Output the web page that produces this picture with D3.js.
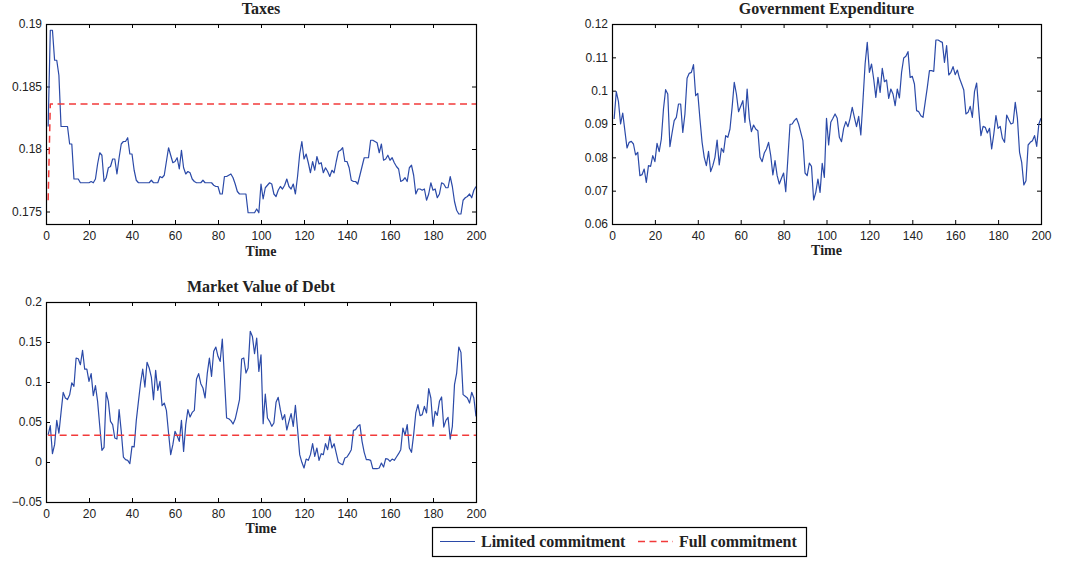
<!DOCTYPE html>
<html>
<head>
<meta charset="utf-8">
<script src="https://cdn.jsdelivr.net/npm/d3@7"></script>
<style>
  body { margin: 0; background: #fff; }
  svg { display: block; }
</style>
</head>
<body>
<svg id="fig" width="1067" height="564"></svg>
<script>
// ---- data -------------------------------------------------------------
const timeSteps = d3.range(1, 201);

const taxesLimited = [
  0.1818, 0.1895, 0.1895, 0.1871, 0.1871, 0.1859, 0.1818, 0.1818, 0.1818, 0.1818,
  0.1804, 0.1804, 0.1776, 0.1776, 0.1776, 0.1773, 0.1773, 0.1773, 0.1773, 0.1773,
  0.1774, 0.1773, 0.1776, 0.1788, 0.1797, 0.1795, 0.1774, 0.1777, 0.1785, 0.1786,
  0.1792, 0.1792, 0.1780, 0.1793, 0.1804, 0.1806, 0.1806, 0.1809, 0.1796, 0.1796,
  0.1783, 0.1775, 0.1773, 0.1773, 0.1773, 0.1773, 0.1773, 0.1773, 0.1775, 0.1773,
  0.1773, 0.1773, 0.1778, 0.1777, 0.1779, 0.1790, 0.1801, 0.1795, 0.1789, 0.1790,
  0.1793, 0.1784, 0.1799, 0.1785, 0.1780, 0.1782, 0.1781, 0.1776, 0.1774, 0.1773,
  0.1773, 0.1773, 0.1775, 0.1773, 0.1773, 0.1773, 0.1773, 0.1771, 0.1770, 0.1770,
  0.1764, 0.1764, 0.1778, 0.1778, 0.1779, 0.1780, 0.1777, 0.1772, 0.1766, 0.1764,
  0.1764, 0.1764, 0.1764, 0.1749, 0.1749, 0.1749, 0.1749, 0.1752, 0.1749, 0.1772,
  0.1760, 0.1769, 0.1771, 0.1773, 0.1772, 0.1764, 0.1762, 0.1767, 0.1770, 0.1768,
  0.1771, 0.1776, 0.1770, 0.1768, 0.1772, 0.1764, 0.1778, 0.1796, 0.1806, 0.1792,
  0.1796, 0.1789, 0.1781, 0.1790, 0.1783, 0.1794, 0.1788, 0.1789, 0.1781, 0.1785,
  0.1782, 0.1778, 0.1783, 0.1781, 0.1790, 0.1798, 0.1799, 0.1801, 0.1790, 0.1790,
  0.1785, 0.1775, 0.1774, 0.1774, 0.1772, 0.1779, 0.1786, 0.1793, 0.1793, 0.1793,
  0.1807, 0.1807, 0.1806, 0.1805, 0.1797, 0.1804, 0.1791, 0.1792, 0.1795, 0.1791,
  0.1793, 0.1789, 0.1786, 0.1784, 0.1774, 0.1775, 0.1777, 0.1774, 0.1785, 0.1787,
  0.1779, 0.1764, 0.1768, 0.1768, 0.1767, 0.1768, 0.1759, 0.1764, 0.1773, 0.1767,
  0.1768, 0.1761, 0.1764, 0.1773, 0.1772, 0.1769, 0.1769, 0.1778, 0.1770, 0.1758,
  0.1751, 0.1748, 0.1748, 0.1759, 0.1761, 0.1762, 0.1764, 0.1761, 0.1767, 0.1770
];
// Full commitment tax path: jumps after the first period, then stays flat
const taxesFullTime = [1, 2, 200];
const taxesFull = [0.1759, 0.1836, 0.1836];

const govExpenditure = [
  0.0915, 0.0997, 0.0968, 0.0900, 0.0933, 0.0880, 0.0828, 0.0845, 0.0848, 0.0840,
  0.0807, 0.0815, 0.0745, 0.0748, 0.0765, 0.0725, 0.0775, 0.0773, 0.0805, 0.0787,
  0.0842, 0.0817, 0.0855, 0.0945, 0.1003, 0.0990, 0.0832, 0.0873, 0.0910, 0.0920,
  0.0960, 0.0960, 0.0875, 0.0930, 0.1037, 0.1052, 0.1055, 0.1078, 0.0985, 0.0992,
  0.0915, 0.0845, 0.0800, 0.0775, 0.0818, 0.0757, 0.0775, 0.0800, 0.0852, 0.0777,
  0.0827, 0.0815, 0.0865, 0.0860, 0.0885, 0.0950, 0.1025, 0.0990, 0.0937, 0.0953,
  0.0970, 0.0905, 0.1005, 0.0917, 0.0877, 0.0897, 0.0885, 0.0880, 0.0800, 0.0787,
  0.0813, 0.0825, 0.0845, 0.0805, 0.0747, 0.0790, 0.0745, 0.0720, 0.0737, 0.0753,
  0.0697, 0.0797, 0.0899, 0.0900, 0.0910, 0.0917, 0.0900, 0.0875, 0.0850, 0.0753,
  0.0745, 0.0783, 0.0773, 0.0672, 0.0695, 0.0735, 0.0695, 0.0782, 0.0740, 0.0917,
  0.0837, 0.0905, 0.0917, 0.0930, 0.0917, 0.0860, 0.0847, 0.0887, 0.0907, 0.0892,
  0.0917, 0.0950, 0.0920, 0.0892, 0.0923, 0.0867, 0.0970, 0.1080, 0.1145, 0.1055,
  0.1080, 0.1035, 0.0980, 0.1040, 0.0995, 0.1067, 0.1027, 0.1032, 0.0977, 0.1005,
  0.0990, 0.0955, 0.1005, 0.0978, 0.1055, 0.1098, 0.1103, 0.1117, 0.1040, 0.1043,
  0.1020, 0.0940, 0.0937, 0.0925, 0.0920, 0.0965, 0.1010, 0.1060, 0.1060, 0.1058,
  0.1152, 0.1152, 0.1148, 0.1145, 0.1085, 0.1135, 0.1047, 0.1055, 0.1072, 0.1048,
  0.1062, 0.1037, 0.1020, 0.1002, 0.0930, 0.0935, 0.0953, 0.0920, 0.0997, 0.1023,
  0.0940, 0.0865, 0.0893, 0.0890, 0.0873, 0.0887, 0.0825, 0.0870, 0.0925, 0.0887,
  0.0893, 0.0857, 0.0845, 0.0927, 0.0913, 0.0900, 0.0903, 0.0965, 0.0917, 0.0815,
  0.0785, 0.0717, 0.0730, 0.0837, 0.0845, 0.0850, 0.0865, 0.0833, 0.0900, 0.0917
];

const debtLimited = [
  0.0340, 0.0454, 0.0104, 0.0217, 0.0520, 0.0360, 0.0620, 0.0870, 0.0800, 0.0780,
  0.0840, 0.0990, 0.0946, 0.1300, 0.1290, 0.1216, 0.1396, 0.1160, 0.1160, 0.1008,
  0.1104, 0.0829, 0.0954, 0.0758, 0.0450, 0.0146, 0.0183, 0.0870, 0.0758, 0.0508,
  0.0467, 0.0300, 0.0287, 0.0654, 0.0383, 0.0062, 0.0029, 0.0021, -0.0021, 0.0196,
  0.0188, 0.0520, 0.0758, 0.0990, 0.1160, 0.0937, 0.1246, 0.1175, 0.1062, 0.0779,
  0.1145, 0.0896, 0.1008, 0.0704, 0.0737, 0.0646, 0.0362, 0.0092, 0.0217, 0.0383,
  0.0329, 0.0258, 0.0520, 0.0133, 0.0467, 0.0654, 0.0562, 0.0620, 0.0646, 0.1037,
  0.1104, 0.0979, 0.0925, 0.0800, 0.1104, 0.1300, 0.1071, 0.1383, 0.1437, 0.1321,
  0.1258, 0.1537, 0.1050, 0.0550, 0.0541, 0.0517, 0.0475, 0.0537, 0.0654, 0.0779,
  0.1287, 0.1300, 0.1112, 0.1175, 0.1633, 0.1570, 0.1354, 0.1550, 0.1133, 0.1340,
  0.0479, 0.0850, 0.0550, 0.0508, 0.0446, 0.0488, 0.0746, 0.0808, 0.0654, 0.0529,
  0.0592, 0.0400, 0.0508, 0.0604, 0.0446, 0.0708, 0.0412, 0.0092, -0.0004, -0.0075,
  0.0037, 0.0021, 0.0092, 0.0229, 0.0071, 0.0175, 0.0021, 0.0104, 0.0092, 0.0229,
  0.0154, 0.0321, 0.0175, 0.0229, 0.0112, -0.0004, -0.0021, -0.0034, 0.0050, 0.0062,
  0.0104, 0.0154, 0.0396, 0.0404, 0.0446, 0.0467, 0.0258, 0.0121, 0.0029, 0.0029,
  0.0021, -0.0084, -0.0084, -0.0084, -0.0075, -0.0013, -0.0063, 0.0042, 0.0037, 0.0008,
  0.0037, 0.0021, 0.0062, 0.0104, 0.0154, 0.0425, 0.0333, 0.0467, 0.0175, 0.0121,
  0.0342, 0.0613, 0.0717, 0.0579, 0.0592, 0.0696, 0.0613, 0.0916, 0.0800, 0.0446,
  0.0633, 0.0583, 0.0758, 0.0813, 0.0437, 0.0520, 0.0558, 0.0287, 0.0446, 0.0967,
  0.1112, 0.1437, 0.1370, 0.0842, 0.0821, 0.0800, 0.0737, 0.0871, 0.0800, 0.0571
];
const debtFullTime = [1, 200];
const debtFull = [0.0333, 0.0333];

const xTicks = [0, 20, 40, 60, 80, 100, 120, 140, 160, 180, 200];
const xTickLabels = ["0", "20", "40", "60", "80", "100", "120", "140", "160", "180", "200"];
const taxesTicks = [0.175, 0.18, 0.185, 0.19];
const taxesTickLabels = ["0.175", "0.18", "0.185", "0.19"];
const govTicks = [0.06, 0.07, 0.08, 0.09, 0.1, 0.11, 0.12];
const govTickLabels = ["0.06", "0.07", "0.08", "0.09", "0.1", "0.11", "0.12"];
const debtTicks = [-0.05, 0, 0.05, 0.1, 0.15, 0.2];
const debtTickLabels = ["\u22120.05", "0", "0.05", "0.1", "0.15", "0.2"];

const legendLabels = ["Limited commitment", "Full commitment"];

// ---- styling ------------------------------------------------------------
const BLUE = "#2b4aa8";
const RED = "#f23a3a";
const TICK_FONT = "'Liberation Sans', Arial, Helvetica, sans-serif";
const TITLE_FONT = "'Liberation Serif', 'Times New Roman', Times, serif";

const svg = d3.select("#fig");

function drawPanel(cfg) {
  const x = d3.scaleLinear().domain([0, 200]).range([cfg.left, cfg.right]);
  const y = d3.scaleLinear().domain(cfg.yDomain).range([cfg.bottom, cfg.top]);
  const g = svg.append("g");

  const styleAxis = sel => {
    sel.attr("font-family", TICK_FONT).attr("font-size", 12);
    sel.selectAll("text").attr("fill", "#222");
    sel.selectAll("line").attr("stroke", "#000");
    sel.select(".domain").remove();
  };

  // bottom axis with labels, ticks pointing inward
  g.append("g")
    .attr("transform", `translate(0,${cfg.bottom})`)
    .call(d3.axisBottom(x).tickValues(xTicks)
      .tickFormat((d, i) => xTickLabels[i])
      .tickSizeInner(-4).tickSizeOuter(0).tickPadding(cfg.xPad))
    .call(styleAxis);
  // top axis, ticks only
  g.append("g")
    .attr("transform", `translate(0,${cfg.top})`)
    .call(d3.axisTop(x).tickValues(xTicks).tickFormat("")
      .tickSizeInner(-4).tickSizeOuter(0))
    .call(styleAxis);
  // left axis with labels
  g.append("g")
    .attr("transform", `translate(${cfg.left},0)`)
    .call(d3.axisLeft(y).tickValues(cfg.yTicks)
      .tickFormat((d, i) => cfg.yLabels[i])
      .tickSizeInner(-4).tickSizeOuter(0).tickPadding(4))
    .call(styleAxis);
  // right axis, ticks only
  g.append("g")
    .attr("transform", `translate(${cfg.right},0)`)
    .call(d3.axisRight(y).tickValues(cfg.yTicks).tickFormat("")
      .tickSizeInner(-4).tickSizeOuter(0))
    .call(styleAxis);

  // series
  cfg.series.forEach(s => {
    const line = d3.line()
      .x((d, i) => x(s.time[i]))
      .y(d => y(d));
    g.append("path")
      .datum(s.values)
      .attr("d", line)
      .attr("fill", "none")
      .attr("stroke", s.color)
      .attr("stroke-width", s.width)
      .attr("stroke-dasharray", s.dash || null)
      .attr("stroke-linejoin", "round");
  });

  // axes box
  g.append("rect")
    .attr("x", cfg.left + 0.5).attr("y", cfg.top + 0.5)
    .attr("width", cfg.right - cfg.left).attr("height", cfg.bottom - cfg.top)
    .attr("fill", "none").attr("stroke", "#000").attr("stroke-width", 1.2);

  // title and x label
  g.append("text")
    .attr("x", (cfg.left + cfg.right) / 2).attr("y", cfg.top - 10)
    .attr("text-anchor", "middle")
    .attr("font-family", TITLE_FONT).attr("font-weight", "bold").attr("font-size", 16)
    .attr("fill", "#222")
    .text(cfg.title);
  g.append("text")
    .attr("x", (cfg.left + cfg.right) / 2).attr("y", cfg.bottom + cfg.xLabelGap)
    .attr("text-anchor", "middle")
    .attr("font-family", TITLE_FONT).attr("font-weight", "bold").attr("font-size", 14)
    .attr("fill", "#222")
    .text("Time");
}

drawPanel({
  title: "Taxes",
  left: 46, right: 476, top: 24, bottom: 224, xPad: 7.5, xLabelGap: 32,
  yDomain: [0.174, 0.19], yTicks: taxesTicks, yLabels: taxesTickLabels,
  series: [
    { time: timeSteps, values: taxesLimited, color: BLUE, width: 1.2 },
    { time: taxesFullTime, values: taxesFull, color: RED, width: 1.5, dash: "7,4.5" }
  ]
});

drawPanel({
  title: "Government Expenditure",
  left: 612, right: 1041, top: 24, bottom: 224, xPad: 7.5, xLabelGap: 31,
  yDomain: [0.06, 0.12], yTicks: govTicks, yLabels: govTickLabels,
  series: [
    { time: timeSteps, values: govExpenditure, color: BLUE, width: 1.2 }
  ]
});

drawPanel({
  title: "Market Value of Debt",
  left: 46, right: 476, top: 302, bottom: 502, xPad: 7, xLabelGap: 31,
  yDomain: [-0.05, 0.2], yTicks: debtTicks, yLabels: debtTickLabels,
  series: [
    { time: timeSteps, values: debtLimited, color: BLUE, width: 1.2 },
    { time: debtFullTime, values: debtFull, color: RED, width: 1.5, dash: "7,4.5" }
  ]
});

// ---- legend ---------------------------------------------------------------
const legend = svg.append("g");
legend.append("rect")
  .attr("x", 432.5).attr("y", 527.5).attr("width", 374).attr("height", 29)
  .attr("fill", "#fff").attr("stroke", "#000").attr("stroke-width", 1.2);
const legendItems = [
  { label: legendLabels[0], color: BLUE, dash: null, x0: 440, x1: 475, tx: 481 },
  { label: legendLabels[1], color: RED, dash: "7,4.5", x0: 638, x1: 673, tx: 679 }
];
legendItems.forEach(it => {
  legend.append("line")
    .attr("x1", it.x0).attr("x2", it.x1).attr("y1", 541.5).attr("y2", 541.5)
    .attr("stroke", it.color).attr("stroke-width", it.dash ? 1.5 : 1.2)
    .attr("stroke-dasharray", it.dash);
  legend.append("text")
    .attr("x", it.tx).attr("y", 547)
    .attr("font-family", TITLE_FONT).attr("font-weight", "bold").attr("font-size", 16)
    .attr("fill", "#222")
    .text(it.label);
});
</script>
</body>
</html>
